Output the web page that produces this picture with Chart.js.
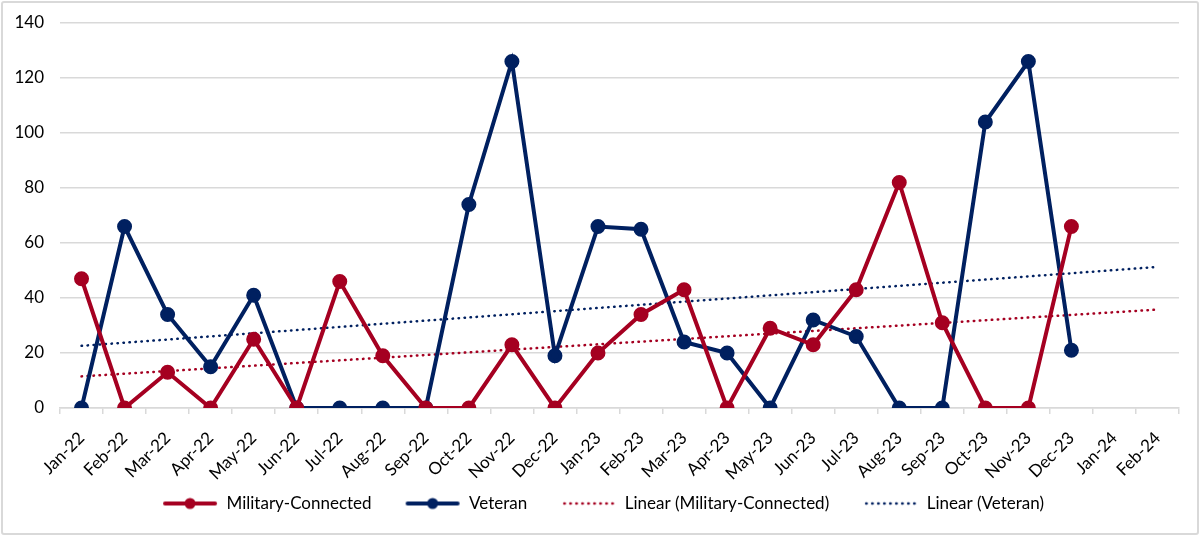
<!DOCTYPE html>
<html>
<head>
<meta charset="utf-8">
<script src="https://cdn.jsdelivr.net/npm/chart.js@4.4.1/dist/chart.umd.min.js"></script>
<style>
  html, body { margin: 0; padding: 0; background: #fff; }
  #wrap { position: relative; width: 1200px; height: 536px; }
  #frame { position: absolute; left: 1px; top: 1px; width: 1194px; height: 530px; border: 2px solid #d9d9d9; border-radius: 3px; pointer-events: none; }
  canvas { display: block; }
</style>
</head>
<body>
<div id="wrap">
  <canvas id="c" width="1200" height="536"></canvas>
  <div id="frame"></div>
</div>
<script>
const categories = ['Jan-22','Feb-22','Mar-22','Apr-22','May-22','Jun-22','Jul-22','Aug-22','Sep-22','Oct-22','Nov-22','Dec-22',
  'Jan-23','Feb-23','Mar-23','Apr-23','May-23','Jun-23','Jul-23','Aug-23','Sep-23','Oct-23','Nov-23','Dec-23','Jan-24','Feb-24'];
const militaryConnected = [47,0,13,0,25,0,46,19,0,0,23,0,20,34,43,0,29,23,43,82,31,0,0,66];
const veteran = [0,66,34,15,41,0,0,0,0,74,126,19,66,65,24,20,0,32,26,0,0,104,126,21];
// Linear trendline end values (Jan-22 and Feb-24)
const trendMilitaryEnds = [11.5, 35.8];
const trendVeteranEnds = [22.6, 51.3];
const yTicks = [0,20,40,60,80,100,120,140];

const RED = '#A50021';
const NAVY = '#002060';

function endsToSeries(ends) {
  return categories.map((c, i) => i === 0 ? ends[0] : (i === categories.length - 1 ? ends[1] : null));
}

function legendIcon(color, dotted) {
  const cv = document.createElement('canvas');
  cv.width = 56; cv.height = 14;
  const g = cv.getContext('2d');
  g.strokeStyle = color; g.fillStyle = color;
  if (dotted) {
    g.lineWidth = 2.5; g.lineCap = 'round';
    g.setLineDash([0.5, 5.5]);
    g.beginPath(); g.moveTo(4, 7); g.lineTo(54, 7); g.stroke();
  } else {
    g.lineWidth = 4; g.lineCap = 'round';
    g.beginPath(); g.moveTo(3, 7); g.lineTo(53, 7); g.stroke();
    g.beginPath(); g.arc(28, 7, 5.5, 0, Math.PI * 2); g.fill();
  }
  return cv;
}

const icons = [legendIcon(RED, false), legendIcon(NAVY, false), legendIcon(RED, true), legendIcon(NAVY, true)];

new Chart(document.getElementById('c'), {
  type: 'line',
  data: {
    labels: categories,
    datasets: [
      { label: 'Military-Connected', data: militaryConnected, borderColor: RED, backgroundColor: RED,
        borderWidth: 4, pointRadius: 5.5, pointBackgroundColor: RED, pointBorderColor: RED, tension: 0 },
      { label: 'Veteran', data: veteran, borderColor: NAVY, backgroundColor: NAVY,
        borderWidth: 4, pointRadius: 5.5, pointBackgroundColor: NAVY, pointBorderColor: NAVY, tension: 0 },
      { label: 'Linear (Military-Connected)', data: endsToSeries(trendMilitaryEnds), borderColor: RED,
        borderWidth: 2.5, borderDash: [0.5, 5.5], borderCapStyle: 'round', pointRadius: 0, spanGaps: true },
      { label: 'Linear (Veteran)', data: endsToSeries(trendVeteranEnds), borderColor: NAVY,
        borderWidth: 2.5, borderDash: [0.5, 5.5], borderCapStyle: 'round', pointRadius: 0, spanGaps: true }
    ]
  },
  options: {
    responsive: false,
    animation: false,
    devicePixelRatio: 1,
    layout: { padding: { left: 27, right: 21, top: 23, bottom: 14 } },
    font: { family: 'Lato' },
    plugins: {
      tooltip: { enabled: false },
      legend: {
        position: 'bottom',
        labels: {
          usePointStyle: true,
          pointStyleWidth: 56,
          padding: 33,
          color: '#000',
          font: { family: 'Lato', size: 17 },
          generateLabels(chart) {
            return chart.data.datasets.map((ds, i) => ({
              text: ds.label, datasetIndex: i, pointStyle: icons[i],
              fillStyle: ds.borderColor, strokeStyle: ds.borderColor, lineWidth: 0, hidden: false, fontColor: '#000'
            }));
          }
        }
      }
    },
    scales: {
      x: {
        offset: true,
        grid: { offset: true, drawOnChartArea: false, drawTicks: true, tickLength: 6, color: '#d9d9d9', lineWidth: 1.5 },
        border: { display: true, color: '#d9d9d9', width: 1.5 },
        ticks: { minRotation: 45, maxRotation: 45, autoSkip: false, color: '#000', font: { family: 'Lato', size: 17 }, padding: 14 },
        afterFit(s) { s.height = 54; s._computeLabelArea = () => undefined; }
      },
      y: {
        min: 0, max: 140,
        afterBuildTicks(s) { s.ticks = yTicks.map(v => ({ value: v })); },
        grid: { drawTicks: false, color: '#d9d9d9', lineWidth: 1.5 },
        border: { display: false },
        ticks: { color: '#000', font: { family: 'Lato', size: 17 }, padding: 16 },
        afterFit(s) { s.width = 33; s.paddingTop = 0; s.paddingBottom = 0; s._computeLabelArea = () => undefined; }
      }
    }
  }
});
</script>
</body>
</html>
